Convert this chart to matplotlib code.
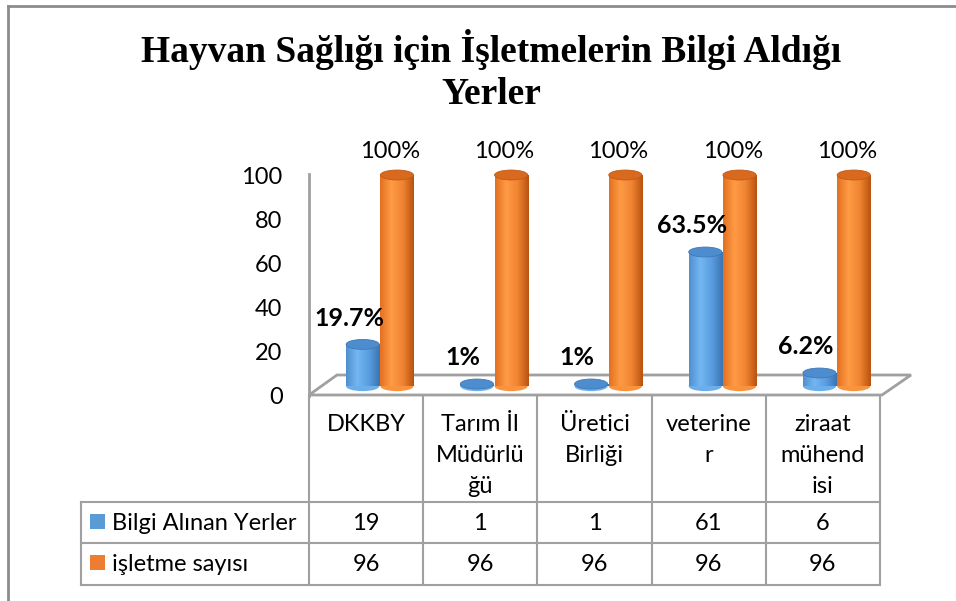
import numpy as np
import matplotlib.pyplot as plt
from matplotlib.patches import Rectangle, Ellipse, Polygon
from matplotlib.colors import LinearSegmentedColormap

# veriler
categories = ['DKKBY', 'Tarım İl\nMüdürlü\nğü', 'Üretici\nBirliği', 'veterine\nr', 'ziraat\nmühend\nisi']
bilgi = [19, 1, 1, 61, 6]
isletme = [96, 96, 96, 96, 96]
bilgi_pct = ['19.7%', '1%', '1%', '63.5%', '6.2%']
isletme_pct = ['100%', '100%', '100%', '100%', '100%']
series_names = ['Bilgi Alınan Yerler', 'işletme sayısı']
yticks = [0, 20, 40, 60, 80, 100]
title = 'Hayvan Sağlığı için İşletmelerin Bilgi Aldığı\nYerler'

FONT = 'Lato'
FS = 17
GRID = '#a0a0a0'
BLUE = '#5b9bd5'
ORANGE = '#ed7d31'
blue_cmap = LinearSegmentedColormap.from_list('b', ['#4f8fd0', '#74b6f2', '#5a9ee0', '#3a74b2'], N=256)
orange_cmap = LinearSegmentedColormap.from_list('o', ['#e27020', '#ff9a45', '#f08532', '#b9520f'], N=256)

W, H = 956, 601
fig = plt.figure(figsize=(W / 100, H / 100), dpi=100)
bg = fig.add_axes([0, 0, 1, 1])
bg.set_xlim(0, W)
bg.set_ylim(H, 0)
bg.axis('off')

# çizim alanı (piksel)
X0, X1 = 309, 880
Y0, Y100 = 395, 175
ax = fig.add_axes([X0 / W, 1 - Y0 / H, (X1 - X0) / W, (Y0 - Y100) / H])
ax.patch.set_visible(False)

DEPTH = 4      # 3B derinlik kaydırması (veri birimi)
SHIFT = 0.12
BW = 0.29
EH = 4.5


def cylinder(xc, h, cmap, top_color, edge):
    x0 = xc - BW / 2
    ax.add_patch(Ellipse((xc, DEPTH), BW, EH, facecolor=cmap(0.45), edgecolor='none',
                         zorder=2, clip_on=False))
    rect = Rectangle((x0, DEPTH), BW, h, facecolor='none', edgecolor='none')
    ax.add_patch(rect)
    grad = np.linspace(0, 1, 200).reshape(1, -1)
    im = ax.imshow(grad, cmap=cmap, extent=[x0, x0 + BW, DEPTH, DEPTH + h],
                   aspect='auto', zorder=3, interpolation='bilinear')
    im.set_clip_path(rect)
    ax.add_patch(Ellipse((xc, DEPTH + h), BW, EH, facecolor=top_color, edgecolor=edge,
                         lw=0.6, zorder=4, clip_on=False))


for i in range(len(categories)):
    cylinder(i - 0.15 + SHIFT, bilgi[i], blue_cmap, '#4d8dcf', '#3f79b5')
    cylinder(i + 0.15 + SHIFT, isletme[i], orange_cmap, '#d9691f', '#c05a14')
    ax.text(i - 0.15, bilgi[i] + DEPTH + 12, bilgi_pct[i], ha='center', va='center',
            fontsize=18, fontweight='bold', family=FONT, clip_on=False)
    ax.text(i + 0.21, isletme[i] + DEPTH + 10.5, isletme_pct[i], ha='center', va='center',
            fontsize=FS, family=FONT, clip_on=False)

ax.set_xlim(-0.5, len(categories) - 0.5)
ax.set_ylim(0, 100)
ax.set_xticks([])
ax.set_yticks(yticks)
ax.tick_params(axis='y', length=0, pad=19, labelsize=FS)
for lab in ax.get_yticklabels():
    lab.set_family(FONT)
for s in ax.spines.values():
    s.set_visible(False)

# zemin ve eksen çizgisi
bg.add_patch(Polygon([(309, 395), (882, 395), (911, 375), (337, 375)], closed=True,
                     facecolor='none', edgecolor=GRID, lw=2, zorder=1))
bg.plot([309, 309], [174, 396], color=GRID, lw=2)

# veri tablosu
col_w = (X1 - X0) / len(categories)
cols = [X0 + col_w * k for k in range(len(categories) + 1)]
TL = 81
rows = [396, 502, 543, 585]
for c in cols:
    bg.plot([c, c], [rows[0], rows[-1]], color=GRID, lw=1.5)
bg.plot([TL, TL], [rows[1], rows[-1]], color=GRID, lw=1.5)
for r in rows[1:]:
    bg.plot([TL, cols[-1]], [r, r], color=GRID, lw=1.5)

for i, cat in enumerate(categories):
    cx = (cols[i] + cols[i + 1]) / 2
    for j, line in enumerate(cat.split('\n')):
        bg.text(cx, 431 + 31 * j, line, ha='center', va='baseline', fontsize=FS, family=FONT)
    bg.text(cx, 530, str(bilgi[i]), ha='center', va='baseline', fontsize=FS, family=FONT)
    bg.text(cx, 571, str(isletme[i]), ha='center', va='baseline', fontsize=FS, family=FONT)

for k, (name, col) in enumerate(zip(series_names, [BLUE, ORANGE])):
    base = 530 + 41 * k
    bg.add_patch(Rectangle((90, base - 16), 15, 15, facecolor=col, edgecolor='none'))
    bg.text(112, base, name, ha='left', va='baseline', fontsize=FS, family=FONT)

# başlık
for j, line in enumerate(title.split('\n')):
    bg.text(491, 62 + 42 * j, line, ha='center', va='baseline', fontsize=27,
            fontweight='bold', family='Liberation Serif')

# çerçeve
bg.plot([8, 8], [6, H], color='#8c8c8c', lw=2)
bg.plot([8, W], [6, 6], color='#8c8c8c', lw=2)

fig.savefig('out.png', dpi=100)
